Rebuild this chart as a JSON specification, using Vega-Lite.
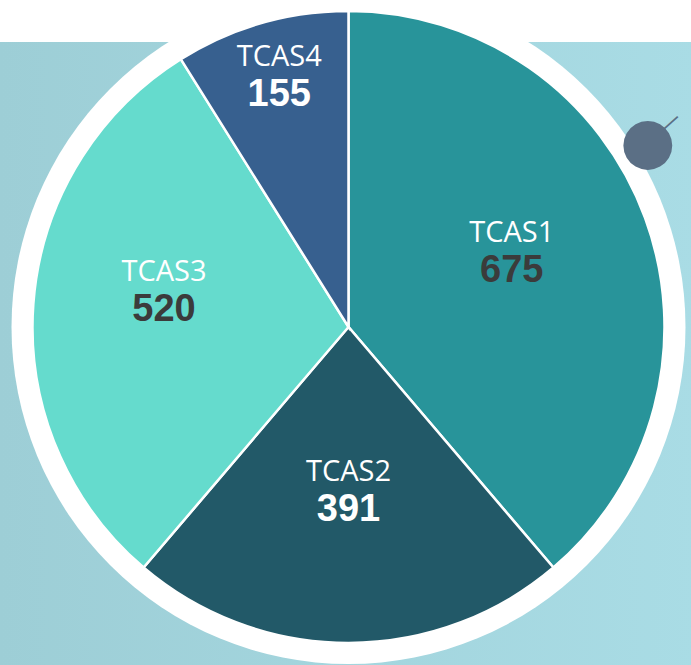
{
  "$schema": "https://vega.github.io/schema/vega-lite/v6.json",
  "width": 697,
  "height": 676,
  "autosize": "none",
  "padding": {"top": -11, "left": 0, "right": 0, "bottom": 0},
  "background": "#a3d6de",
  "config": {"view": {"stroke": null}},
  "datasets": {
    "pie": [
      {"cat": "TCAS1", "value": 675},
      {"cat": "TCAS2", "value": 391},
      {"cat": "TCAS3", "value": 520},
      {"cat": "TCAS4", "value": 155}
    ]
  },
  "layer": [
    {
      "data": {"values": [{}]},
      "mark": {"type": "rect", "fill": {"gradient": "linear", "x1": 0, "x2": 1, "y1": 0, "y2": 0, "stops": [{"offset": 0, "color": "#9dced6"}, {"offset": 1, "color": "#a9dce5"}]}},
      "encoding": {}
    },
    {
      "data": {"values": [{}]},
      "mark": {"type": "rect", "fill": {"gradient": "linear", "x1": 0, "x2": 0, "y1": 0, "y2": 1, "stops": [{"offset": 0, "color": "#ffffff"}, {"offset": 0.0784, "color": "#ffffff"}, {"offset": 0.0787, "color": "rgba(255,255,255,0)"}, {"offset": 1, "color": "rgba(255,255,255,0)"}]}},
      "encoding": {}
    },
    {
      "data": {"values": [{}]},
      "mark": {"type": "arc", "radius": 337, "fill": "#ffffff"},
      "encoding": {}
    },
    {
      "data": {"name": "pie"},
      "mark": {"type": "arc", "outerRadius": 316, "stroke": "#ffffff", "strokeWidth": 2.5},
      "encoding": {
        "theta": {"field": "value", "type": "quantitative", "stack": true},
        "order": {"field": "cat"},
        "color": {"field": "cat", "type": "nominal", "legend": null,
          "scale": {"domain": ["TCAS1", "TCAS2", "TCAS3", "TCAS4"], "range": ["#28949a", "#225968", "#65dbcd", "#37608f"]}}
      }
    },
    {
      "data": {"name": "pie"},
      "mark": {"type": "text", "font": "Open Sans", "fontSize": 29, "fill": "#ffffff", "align": "center", "baseline": "middle",
        "radius": {"expr": "datum.cat === 'TCAS4' ? 251 : datum.cat === 'TCAS3' ? 185 : datum.cat === 'TCAS2' ? 161 : 174"},
        "dy": {"expr": "(datum.cat === 'TCAS4' ? -10 : datum.cat === 'TCAS3' ? -22 : datum.cat === 'TCAS2' ? 3 : -15) - 19"}},
      "encoding": {
        "theta": {"field": "value", "type": "quantitative", "stack": true},
        "order": {"field": "cat"},
        "text": {"field": "cat"}
      }
    },
    {
      "data": {"name": "pie"},
      "mark": {"type": "text", "font": "Liberation Sans", "fontWeight": "bold", "fontSize": 38, "align": "center", "baseline": "middle",
        "radius": {"expr": "datum.cat === 'TCAS4' ? 251 : datum.cat === 'TCAS3' ? 185 : datum.cat === 'TCAS2' ? 161 : 174"},
        "dy": {"expr": "(datum.cat === 'TCAS4' ? -10 : datum.cat === 'TCAS3' ? -22 : datum.cat === 'TCAS2' ? 3 : -15) + 19"}},
      "encoding": {
        "theta": {"field": "value", "type": "quantitative", "stack": true},
        "order": {"field": "cat"},
        "text": {"field": "value"},
        "color": {"condition": {"test": "datum.cat === 'TCAS1' || datum.cat === 'TCAS3'", "value": "#3b3b3b"}, "value": "#ffffff"}
      }
    },
    {
      "data": {"values": [{"t": "—"}]},
      "mark": {"type": "text", "font": "DejaVu Sans", "fontSize": 24, "fill": "#5b6f85", "align": "center", "baseline": "middle", "radius": 380, "angle": 318.6},
      "encoding": {"theta": {"value": 1.006}, "text": {"field": "t"}}
    },
    {
      "data": {"values": [{"t": "●"}]},
      "mark": {"type": "text", "font": "DejaVu Sans", "fontSize": 64, "fill": "#5b6f85", "align": "center", "baseline": "middle", "radius": 351.5},
      "encoding": {"theta": {"value": 1.019}, "text": {"field": "t"}}
    }
  ]
}
